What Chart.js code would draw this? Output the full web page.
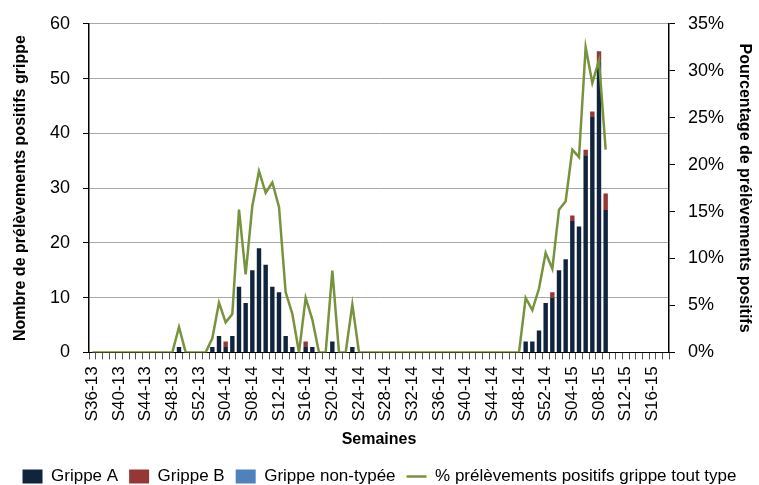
<!DOCTYPE html>
<html>
<head>
<meta charset="utf-8">
<script src="https://cdn.jsdelivr.net/npm/chart.js@4"></script>
<style>
  html, body { margin: 0; padding: 0; background: #fff; }
</style>
</head>
<body>
<canvas id="chart" width="759" height="485"></canvas>
<script>
// weeks S36-13 .. S18-15
var weeks = [
  "S36-13","S37-13","S38-13","S39-13","S40-13","S41-13","S42-13","S43-13","S44-13","S45-13",
  "S46-13","S47-13","S48-13","S49-13","S50-13","S51-13","S52-13",
  "S01-14","S02-14","S03-14","S04-14","S05-14","S06-14","S07-14","S08-14","S09-14","S10-14",
  "S11-14","S12-14","S13-14","S14-14","S15-14","S16-14","S17-14","S18-14","S19-14","S20-14",
  "S21-14","S22-14","S23-14","S24-14","S25-14","S26-14","S27-14","S28-14","S29-14","S30-14",
  "S31-14","S32-14","S33-14","S34-14","S35-14","S36-14","S37-14","S38-14","S39-14","S40-14",
  "S41-14","S42-14","S43-14","S44-14","S45-14","S46-14","S47-14","S48-14","S49-14","S50-14",
  "S51-14","S52-14",
  "S01-15","S02-15","S03-15","S04-15","S05-15","S06-15","S07-15","S08-15","S09-15","S10-15",
  "S11-15","S12-15","S13-15","S14-15","S15-15","S16-15","S17-15","S18-15"
];

var grippeA = [
  0,0,0,0,0,0,0,0,0,0, 0,0,0,1,0,0,0,
  0,1,3,1,3,12,9,15,19,16, 12,11,3,1,0,1,1,0,0,2, 0,0,1,0,0,0,0,0,0,0,
  0,0,0,0,0,0,0,0,0,0, 0,0,0,0,0,0,0,0,2,2, 4,9,
  10,15,17,24,23,36,43,53,26,0, 0,0,0,0,0,0,0,0
];

var grippeB = [
  0,0,0,0,0,0,0,0,0,0, 0,0,0,0,0,0,0,
  0,0,0,1,0,0,0,0,0,0, 0,0,0,0,0,1,0,0,0,0, 0,0,0,0,0,0,0,0,0,0,
  0,0,0,0,0,0,0,0,0,0, 0,0,0,0,0,0,0,0,0,0, 0,0,
  1,0,0,1,0,1,1,2,3,0, 0,0,0,0,0,0,0,0
];

var grippeNonTypee = [
  0,0,0,0,0,0,0,0,0,0, 0,0,0,0,0,0,0,
  0,0,0,0,0,0,0,0,0,0, 0,0,0,0,0,0,0,0,0,0, 0,0,0,0,0,0,0,0,0,0,
  0,0,0,0,0,0,0,0,0,0, 0,0,0,0,0,0,0,0,0,0, 0,0,
  0,0,0,0,0,0,0,0,0,0, 0,0,0,0,0,0,0,0
];

var pctPositifs = [
  0,0,0,0,0,0,0,0,0,0, 0,0,0,2.7,0,0,0,
  0,1.5,5.3,3.2,4.1,15.2,8.3,15.6,19.3,17.0, 18.1,15.5,6.4,4.1,0,5.8,3.5,0,0,8.7, 0,0,5.1,0,0,0,0,0,0,0,
  0,0,0,0,0,0,0,0,0,0, 0,0,0,0,0,0,0,0,5.8,4.5, 6.8,10.6,
  8.9,15.2,16.1,21.6,20.8,32.5,28.7,31.1,21.6,null, null,null,null,null,null,null,null,null
];

var countTicks = [0, 10, 20, 30, 40, 50, 60];
var pctTicks = [0, 5, 10, 15, 20, 25, 30, 35];

var FONT = "'Liberation Sans', Arial, sans-serif";
Chart.defaults.font.family = FONT;
Chart.defaults.font.size = 17;
Chart.defaults.color = '#000';

var ctx = document.getElementById('chart').getContext('2d');

new Chart(ctx, {
  type: 'bar',
  data: {
    labels: weeks,
    datasets: [
      {
        label: 'Grippe A',
        data: grippeA,
        backgroundColor: '#10243e',
        borderColor: '#10243e',
        pointStyle: 'rect',
        yAxisID: 'y',
        order: 1
      },
      {
        label: 'Grippe B',
        data: grippeB,
        backgroundColor: '#953735',
        borderColor: '#632523',
        pointStyle: 'rect',
        yAxisID: 'y',
        order: 1
      },
      {
        label: 'Grippe non-typée',
        data: grippeNonTypee,
        backgroundColor: '#4f81bd',
        borderColor: '#385d8a',
        pointStyle: 'rect',
        yAxisID: 'y',
        order: 1
      },
      {
        type: 'line',
        label: '% prélèvements positifs grippe tout type',
        data: pctPositifs,
        yAxisID: 'yPct',
        borderColor: '#77933c',
        backgroundColor: '#77933c',
        borderWidth: 2.5,
        pointRadius: 0,
        pointStyle: 'line',
        tension: 0,
        order: 0
      }
    ]
  },
  options: {
    responsive: false,
    animation: false,
    layout: { padding: { top: 12, left: 0, right: 0, bottom: -10 } },
    datasets: {
      bar: { barPercentage: 0.66, categoryPercentage: 1.0, borderWidth: 0 }
    },
    plugins: {
      tooltip: { enabled: false },
      legend: {
        position: 'bottom',
        labels: {
          usePointStyle: true,
          pointStyleWidth: 20,
          boxHeight: 14,
          padding: 11,
          color: '#000',
          font: { size: 17, family: FONT },
          sort: function (a, b) { return a.datasetIndex - b.datasetIndex; }
        }
      }
    },
    scales: {
      x: {
        stacked: true,
        offset: true,
        grid: {
          offset: true,
          drawOnChartArea: false,
          tickLength: 7,
          tickColor: '#555',
          color: '#555'
        },
        border: { color: '#000', width: 1 },
        ticks: {
          autoSkip: false,
          minRotation: 90,
          maxRotation: 90,
          padding: 7,
          font: { size: 17 },
          callback: function (val, index) {
            return index % 4 === 0 ? this.getLabelForValue(val) : '';
          }
        },
        title: {
          display: true,
          text: 'Semaines',
          font: { size: 16, weight: 'bold' },
          padding: { top: 8, bottom: 8 }
        },
        afterFit: function (scale) { scale.height = 104.6; }
      },
      y: {
        stacked: true,
        position: 'left',
        min: 0,
        max: 60,
        afterBuildTicks: function (scale) {
          scale.ticks = countTicks.map(function (v) { return { value: v }; });
        },
        grid: {
          color: '#a8a8a8',
          lineWidth: 1,
          borderDash: [2, 2],
          tickColor: '#000',
          tickBorderDash: [],
          tickLength: 6
        },
        border: { color: '#000', width: 1.5 },
        ticks: { padding: 13, font: { size: 18 } },
        title: {
          display: true,
          text: 'Nombre de prélèvements positifs grippe',
          font: { size: 16, weight: 'bold' },
          padding: { top: 11, bottom: 0 }
        },
        afterFit: function (scale) { scale.width = 89; }
      },
      yPct: {
        position: 'right',
        min: 0,
        max: 35,
        afterBuildTicks: function (scale) {
          scale.ticks = pctTicks.map(function (v) { return { value: v }; });
        },
        grid: {
          drawOnChartArea: false,
          tickColor: '#000',
          tickLength: 6
        },
        border: { color: '#000', width: 1.5 },
        ticks: {
          padding: 13,
          font: { size: 18 },
          callback: function (v) { return v + '%'; }
        },
        title: {
          display: true,
          text: 'Pourcentage de prélèvements positifs',
          font: { size: 16, weight: 'bold' },
          padding: { top: 5, bottom: 0 }
        },
        afterFit: function (scale) { scale.width = 90; }
      }
    }
  }
});
</script>
</body>
</html>
